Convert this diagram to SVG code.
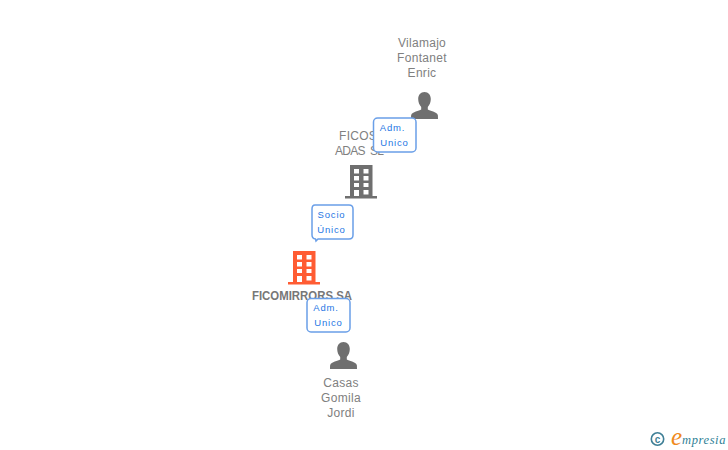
<svg xmlns="http://www.w3.org/2000/svg" width="728" height="450" viewBox="0 0 728 450">
<style>
text{font-family:"Liberation Sans",Arial,sans-serif}
.n{font-size:12px;fill:#808080;text-anchor:middle;letter-spacing:.3px}
.b{font-size:12px;font-weight:bold;fill:#777;text-anchor:middle}
.c{fill:#fff;stroke:#6a9fe8;stroke-width:1.5}
.t{font-size:9.5px;fill:#2676e4;text-anchor:middle;letter-spacing:.8px}
.p{fill:#6f6f6f}
</style>
<defs>
<g id="person"><path d="M13.500 0c3.900 0 6.300 3 6.300 7 0 3.200-1.200 6-3 8v2.600c2 1.300 9 2.300 10 5.400.2 1 .2 2.700.2 4H0c0-1.300 0-3 .2-4 1-3.100 8-4.100 10-5.400V15c-1.800-2-3-4.800-3-8 0-4 2.400-7 6.300-7z"/></g>
<g id="building"><path fill-rule="evenodd" d="M5 0h22.500v31H32v2.500H0V31h5zM9 4v4.500h5V4zM18.500 4v4.500h5V4zM9 11v4.500h5V11zM18.500 11v4.500h5V11zM9 18v4h5v-4zM18.500 18v4h5v-4zM18.500 25v4.500h5V25zM9 25v6h5v-6z"/></g>
</defs>
<g id="connectors"></g>
<g id="node-vilamajo"><use href="#person" x="411" y="92" class="p"/>
<text class="n" x="422" y="47">Vilamajo</text><text class="n" x="422" y="62">Fontanet</text><text class="n" x="422" y="77">Enric</text></g>
<g id="node-ficosa"><use href="#building" x="345" y="165" fill="#6f6f6f"/>
<text class="n" x="339" y="140" style="text-anchor:start">FICOSA</text><text class="n" x="335" y="155" xml:space="preserve" style="text-anchor:start;letter-spacing:0" textLength="49">ADAS  SL</text></g>
<g id="node-ficomirrors"><use href="#building" x="288" y="251" fill="#ff5c33"/>
<text class="b" x="252" y="300" style="text-anchor:start" textLength="100" lengthAdjust="spacingAndGlyphs">FICOMIRRORS SA</text></g>
<g id="node-casas"><use href="#person" x="330" y="342" class="p"/>
<text class="n" x="341" y="387">Casas</text><text class="n" x="341" y="402">Gomila</text><text class="n" x="341" y="417">Jordi</text></g>
<g id="label-adm-1"><rect class="c" x="373.500" y="118" width="42.500" height="34" rx="4"/>
<text class="t" x="392.500" y="131">Adm.</text><text class="t" x="394.500" y="146">Unico</text></g>
<g id="label-socio"><path class="c" d="M315 205h34q4 0 4 4v26q0 4-4 4h-31l-2 2-.5-2q-3.500-.5-3.500-4v-26q0-4 3-4z"/>
<text class="t" x="331.500" y="218">Socio</text><text class="t" x="331.500" y="233">Único</text></g>
<g id="label-adm-2"><rect class="c" x="307" y="298.500" width="43" height="33.500" rx="4"/>
<text class="t" x="326" y="311">Adm.</text><text class="t" x="328.500" y="326">Unico</text></g>
<g id="logo"><circle cx="657.500" cy="439" r="6.200" fill="none" stroke="#3f7f96" stroke-width="1.600"/>
<text x="657.500" y="442.500" font-size="10" font-weight="bold" fill="#3f7f96" text-anchor="middle">c</text>
<text x="671" y="445" font-size="25" font-style="italic" fill="#f08a1d" style="font-family:'Liberation Serif',serif">e</text>
<text x="682" y="444" font-size="12.500" font-style="italic" fill="#2f7f96" style="font-family:'Liberation Serif',serif" letter-spacing=".6">mpresia</text></g>
</svg>
